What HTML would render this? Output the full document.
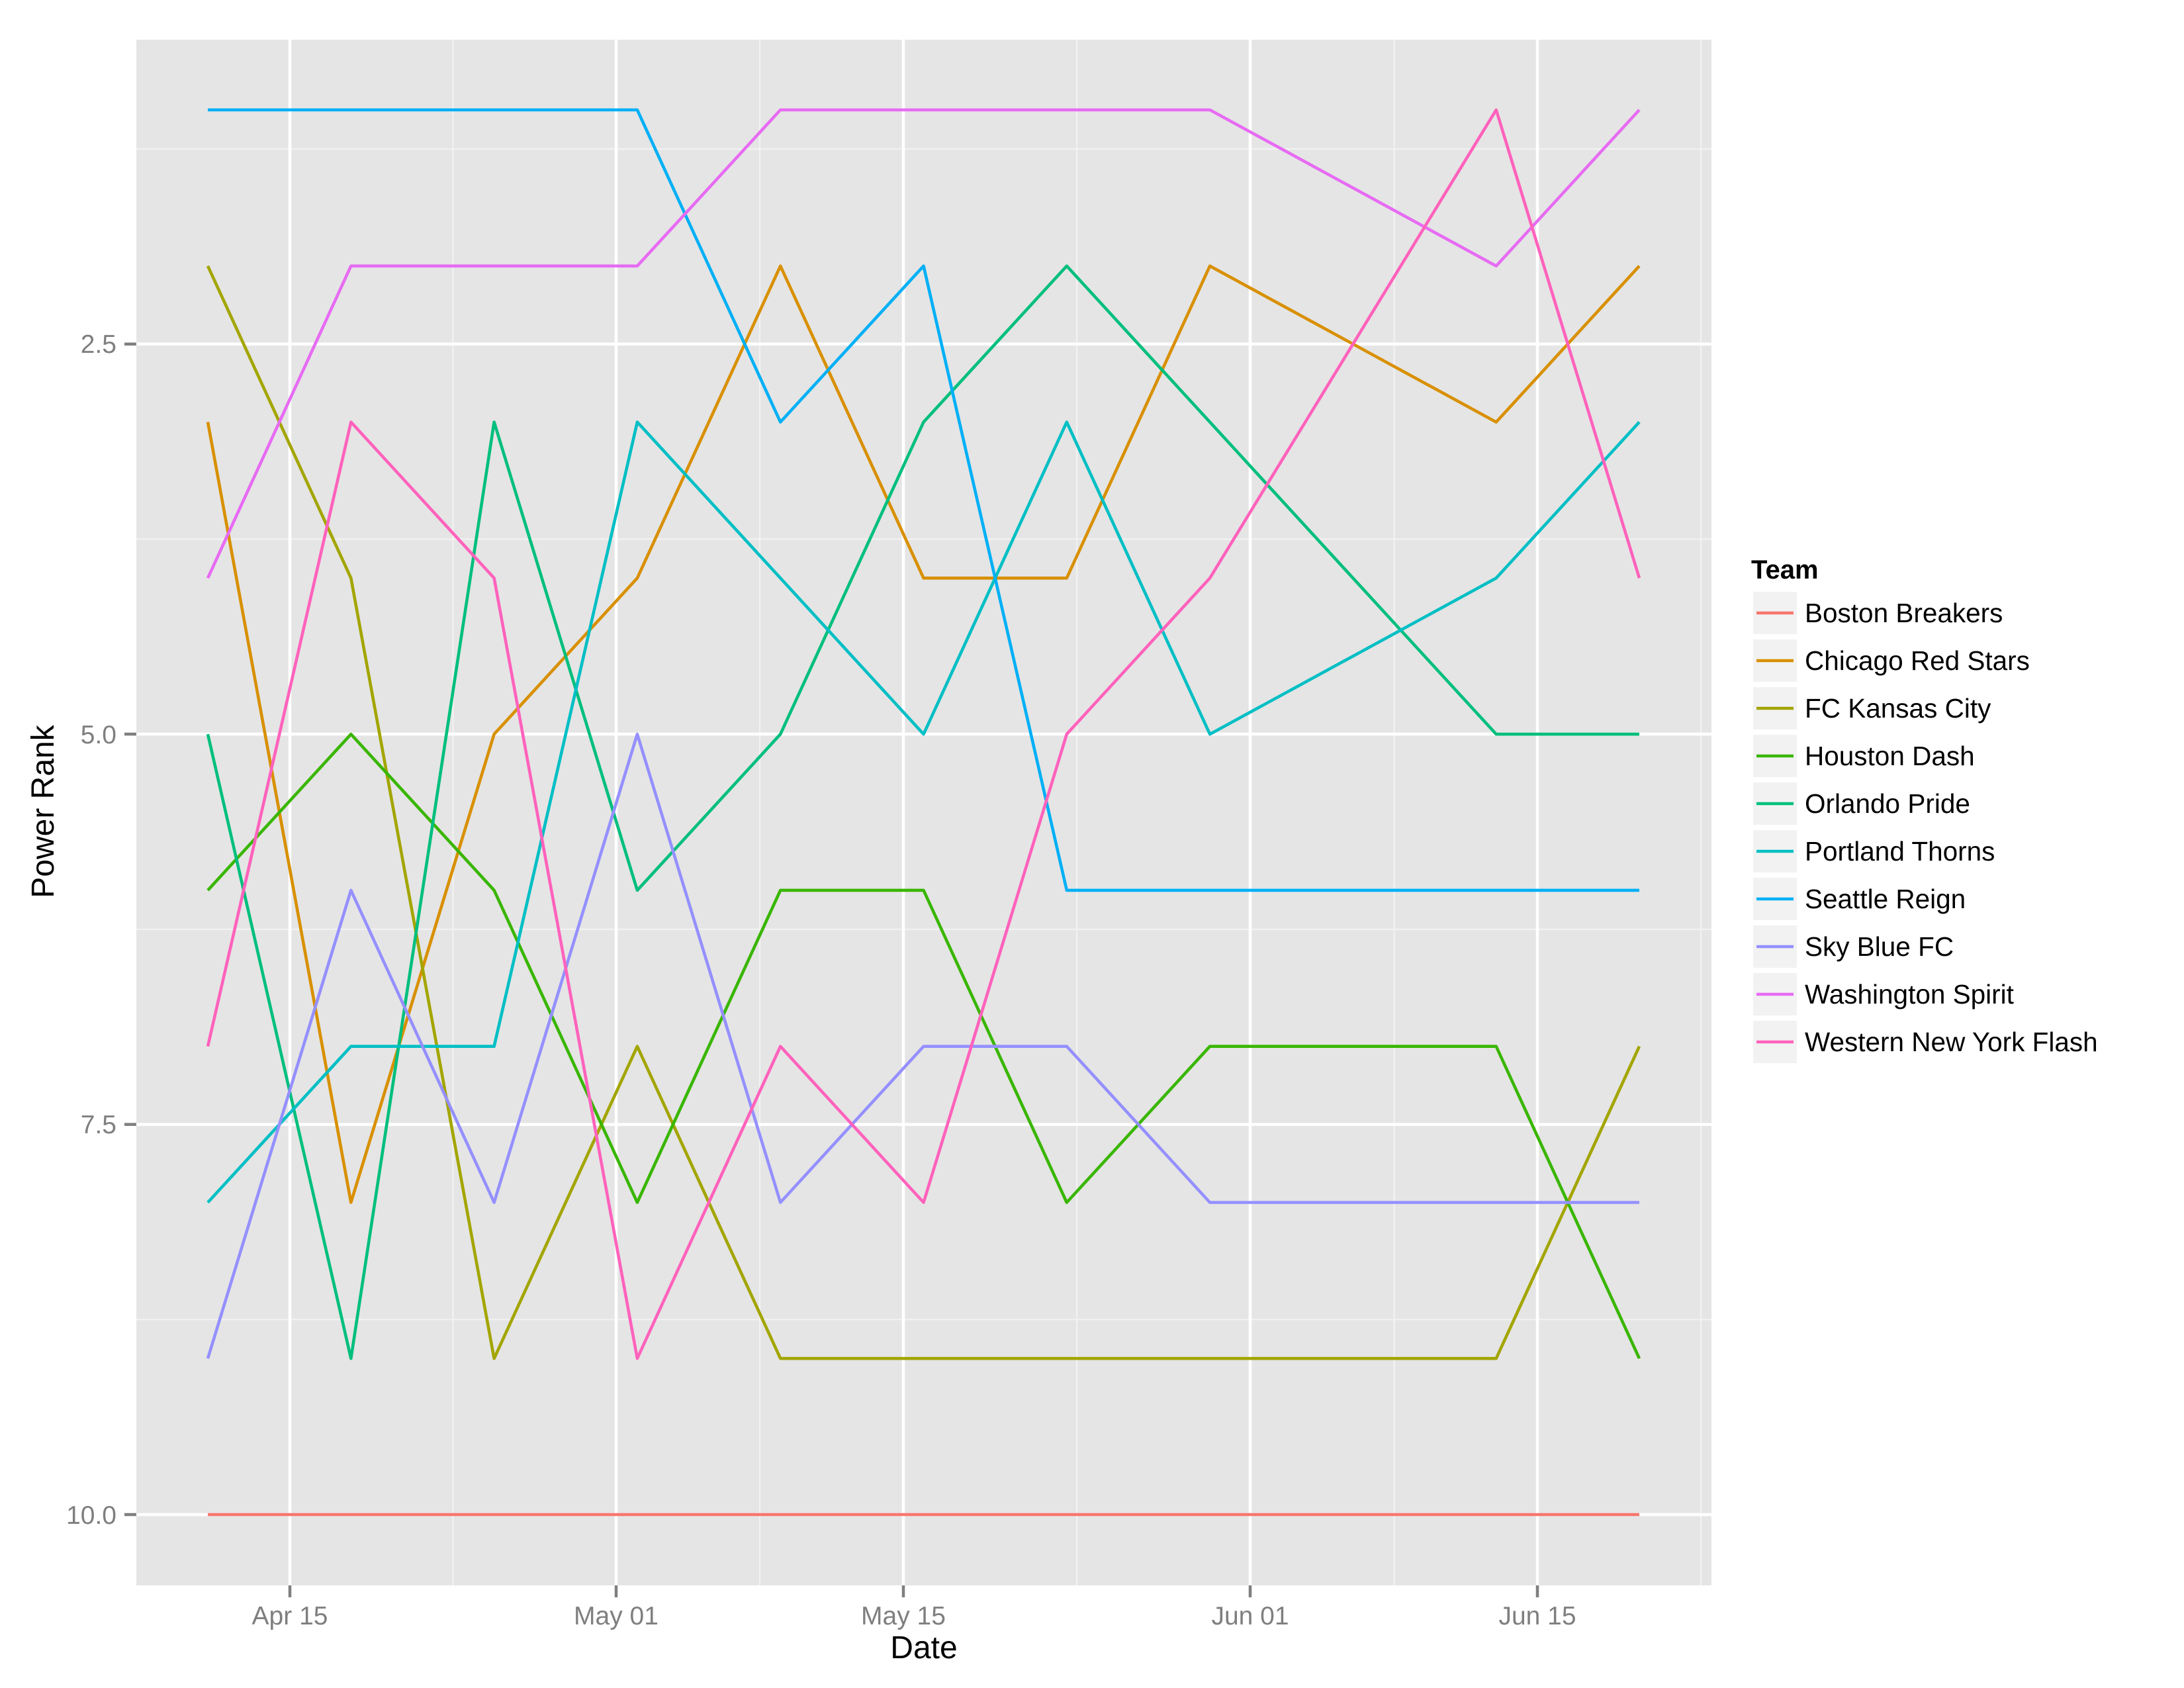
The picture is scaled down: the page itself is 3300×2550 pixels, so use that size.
<!DOCTYPE html>
<html><head><meta charset="utf-8"><style>html,body{margin:0;padding:0;background:#fff}svg{display:block}</style></head>
<body>
<svg width="3300" height="2550" viewBox="0 0 3300 2550" xmlns="http://www.w3.org/2000/svg" font-family="Liberation Sans, Arial, sans-serif">
<rect x="206" y="60" width="2380" height="2335" fill="#e5e5e5"/>
<g stroke="#f2f2f2" stroke-width="2.2">
<line x1="206" x2="2586" y1="225" y2="225"/>
<line x1="206" x2="2586" y1="814.4" y2="814.4"/>
<line x1="206" x2="2586" y1="1403.8" y2="1403.8"/>
<line x1="206" x2="2586" y1="1993.3" y2="1993.3"/>
<line y1="60" y2="2395" x1="684.5" x2="684.5"/>
<line y1="60" y2="2395" x1="1148" x2="1148"/>
<line y1="60" y2="2395" x1="1627" x2="1627"/>
<line y1="60" y2="2395" x1="2106.5" x2="2106.5"/>
<line y1="60" y2="2395" x1="2570" x2="2570"/>
</g>
<g stroke="#ffffff" stroke-width="4.5">
<line x1="206" x2="2586" y1="519.7" y2="519.7"/>
<line x1="206" x2="2586" y1="1109" y2="1109"/>
<line x1="206" x2="2586" y1="1698.6" y2="1698.6"/>
<line x1="206" x2="2586" y1="2288" y2="2288"/>
<line y1="60" y2="2395" x1="438" x2="438"/>
<line y1="60" y2="2395" x1="931" x2="931"/>
<line y1="60" y2="2395" x1="1365" x2="1365"/>
<line y1="60" y2="2395" x1="1889" x2="1889"/>
<line y1="60" y2="2395" x1="2323" x2="2323"/>
</g>
<g fill="none" stroke-width="4.6" stroke-linejoin="round">
<polyline stroke="#f8766d" points="314,2288 530.3,2288 746.6,2288 962.9,2288 1179.2,2288 1395.5,2288 1611.8,2288 1828.1,2288 2260.7,2288 2477,2288"/>
<polyline stroke="#d89000" points="314,637.6 530.3,1816.5 746.6,1109.1 962.9,873.3 1179.2,401.8 1395.5,873.3 1611.8,873.3 1828.1,401.8 2260.7,637.6 2477,401.8"/>
<polyline stroke="#a3a500" points="314,401.8 530.3,873.3 746.6,2052.2 962.9,1580.7 1179.2,2052.2 1395.5,2052.2 1611.8,2052.2 1828.1,2052.2 2260.7,2052.2 2477,1580.7"/>
<polyline stroke="#39b600" points="314,1344.9 530.3,1109.1 746.6,1344.9 962.9,1816.5 1179.2,1344.9 1395.5,1344.9 1611.8,1816.5 1828.1,1580.7 2260.7,1580.7 2477,2052.2"/>
<polyline stroke="#00bf7d" points="314,1109.1 530.3,2052.2 746.6,637.6 962.9,1344.9 1179.2,1109.1 1395.5,637.6 1611.8,401.8 1828.1,637.6 2260.7,1109.1 2477,1109.1"/>
<polyline stroke="#00bfc4" points="314,1816.5 530.3,1580.7 746.6,1580.7 962.9,637.6 1179.2,873.3 1395.5,1109.1 1611.8,637.6 1828.1,1109.1 2260.7,873.3 2477,637.6"/>
<polyline stroke="#00b0f6" points="314,166 530.3,166 746.6,166 962.9,166 1179.2,637.6 1395.5,401.8 1611.8,1344.9 1828.1,1344.9 2260.7,1344.9 2477,1344.9"/>
<polyline stroke="#9590ff" points="314,2052.2 530.3,1344.9 746.6,1816.5 962.9,1109.1 1179.2,1816.5 1395.5,1580.7 1611.8,1580.7 1828.1,1816.5 2260.7,1816.5 2477,1816.5"/>
<polyline stroke="#e76bf3" points="314,873.3 530.3,401.8 746.6,401.8 962.9,401.8 1179.2,166 1395.5,166 1611.8,166 1828.1,166 2260.7,401.8 2477,166"/>
<polyline stroke="#ff62bc" points="314,1580.7 530.3,637.6 746.6,873.3 962.9,2052.2 1179.2,1580.7 1395.5,1816.5 1611.8,1109.1 1828.1,873.3 2260.7,166 2477,873.3"/>
</g>
<g stroke="#7f7f7f" stroke-width="4.5">
<line x1="188" x2="206" y1="519.7" y2="519.7"/>
<line x1="188" x2="206" y1="1109" y2="1109"/>
<line x1="188" x2="206" y1="1698.6" y2="1698.6"/>
<line x1="188" x2="206" y1="2288" y2="2288"/>
<line y1="2395" y2="2413" x1="438" x2="438"/>
<line y1="2395" y2="2413" x1="931" x2="931"/>
<line y1="2395" y2="2413" x1="1365" x2="1365"/>
<line y1="2395" y2="2413" x1="1889" x2="1889"/>
<line y1="2395" y2="2413" x1="2323" x2="2323"/>
</g>
<g fill="#7f7f7f" font-size="39" text-anchor="end">
<text x="176" y="533">2.5</text>
<text x="176" y="1123">5.0</text>
<text x="176" y="1712">7.5</text>
<text x="176" y="2302">10.0</text>
</g>
<g fill="#7f7f7f" font-size="39" text-anchor="middle">
<text x="438" y="2454">Apr 15</text>
<text x="931" y="2454">May 01</text>
<text x="1365" y="2454">May 15</text>
<text x="1889" y="2454">Jun 01</text>
<text x="2323" y="2454">Jun 15</text>
</g>
<text x="1396" y="2505" font-size="48" text-anchor="middle" fill="#000">Date</text>
<text transform="translate(81,1226) rotate(-90)" font-size="48" text-anchor="middle" fill="#000">Power Rank</text>
<text x="2646" y="874" font-size="40" font-weight="bold" fill="#000">Team</text>
<g fill="#f2f2f2">
<rect x="2649" y="894" width="66" height="64"/>
<rect x="2649" y="966" width="66" height="64"/>
<rect x="2649" y="1038" width="66" height="64"/>
<rect x="2649" y="1110" width="66" height="64"/>
<rect x="2649" y="1182" width="66" height="64"/>
<rect x="2649" y="1254" width="66" height="64"/>
<rect x="2649" y="1326" width="66" height="64"/>
<rect x="2649" y="1398" width="66" height="64"/>
<rect x="2649" y="1470" width="66" height="64"/>
<rect x="2649" y="1542" width="66" height="64"/>
</g>
<g stroke-width="4.6">
<line x1="2654" x2="2710" y1="926" y2="926" stroke="#f8766d"/>
<line x1="2654" x2="2710" y1="998" y2="998" stroke="#d89000"/>
<line x1="2654" x2="2710" y1="1070" y2="1070" stroke="#a3a500"/>
<line x1="2654" x2="2710" y1="1142" y2="1142" stroke="#39b600"/>
<line x1="2654" x2="2710" y1="1214" y2="1214" stroke="#00bf7d"/>
<line x1="2654" x2="2710" y1="1286" y2="1286" stroke="#00bfc4"/>
<line x1="2654" x2="2710" y1="1358" y2="1358" stroke="#00b0f6"/>
<line x1="2654" x2="2710" y1="1430" y2="1430" stroke="#9590ff"/>
<line x1="2654" x2="2710" y1="1502" y2="1502" stroke="#e76bf3"/>
<line x1="2654" x2="2710" y1="1574" y2="1574" stroke="#ff62bc"/>
</g>
<g font-size="40.5" fill="#000">
<text x="2727" y="940">Boston Breakers</text>
<text x="2727" y="1012">Chicago Red Stars</text>
<text x="2727" y="1084">FC Kansas City</text>
<text x="2727" y="1156">Houston Dash</text>
<text x="2727" y="1228">Orlando Pride</text>
<text x="2727" y="1300">Portland Thorns</text>
<text x="2727" y="1372">Seattle Reign</text>
<text x="2727" y="1444">Sky Blue FC</text>
<text x="2727" y="1516">Washington Spirit</text>
<text x="2727" y="1588">Western New York Flash</text>
</g>
</svg>
</body></html>
